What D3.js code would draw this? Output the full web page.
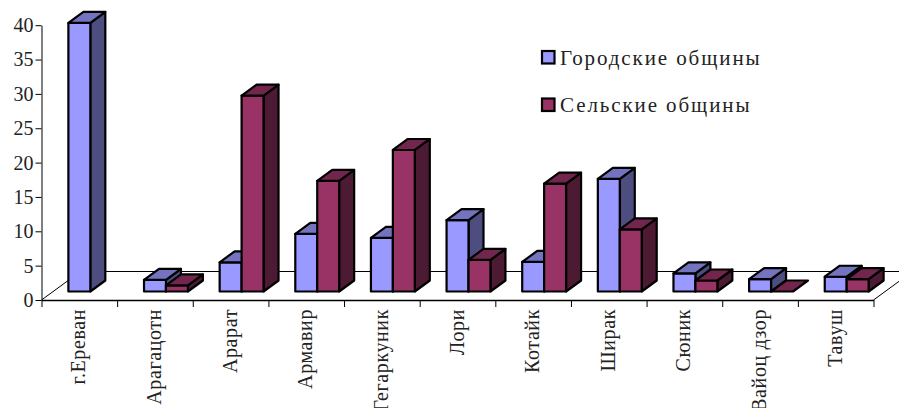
<!DOCTYPE html>
<html lang="ru">
<head>
<meta charset="UTF-8">
<title>Городские и сельские общины</title>
<script src="https://d3js.org/d3.v7.min.js"></script>
<style>
    html, body { margin: 0; padding: 0; background: #fff; overflow: hidden; }
    svg { display: block; }
    text { font-family: "Liberation Serif", serif; fill: #222; }
    .domain, .tick line { stroke: #000; }
</style>
</head>
<body>
<svg id="chart" width="899" height="408"></svg>
<script>
const regions = ["г.Ереван", "Арагацотн", "Арарат", "Армавир", "Гегаркуник", "Лори", "Котайк", "Ширак", "Сюник", "Вайоц дзор", "Тавуш"];
const urban = [39.1, 1.7, 4.25, 8.4, 7.8, 10.4, 4.3, 16.4, 2.65, 1.8, 2.15];
const rural = [0, 0.9, 28.5, 16.1, 20.6, 4.6, 15.7, 9.05, 1.6, 0, 1.8];
const seriesNames = ["Городские общины", "Сельские общины"];
const yTicks = [0, 5, 10, 15, 20, 25, 30, 35, 40];

const colors = [
    { front: "#9999ff", top: "#7373bf", side: "#4d4d80" },
    { front: "#993366", top: "#73264d", side: "#4d1a33" }
];

const svg = d3.select("#chart");
const plotLeft = 41.5, plotRight = 873.5, plotBottom = 300, plotTop = 25.2;
const floorDx = 39, floorDy = 28.5;      // floor depth
const depthDx = 15, depthDy = 11;        // bar depth
const planeDx = 11, planeDy = 8.5;       // front plane of bars relative to axis

const y = d3.scaleLinear().domain([0, 40]).range([plotBottom, plotTop]);
const xEdge = d3.scaleLinear().domain([0, regions.length]).range([plotLeft, plotRight]);
const x = d3.scaleBand().domain(d3.range(regions.length)).range([plotLeft, plotRight]).paddingInner(0.42).paddingOuter(0.21);
const xSeries = d3.scaleBand().domain([0, 1]).range([0, x.bandwidth()]);

// floor
const floor = svg.append("g").attr("fill", "none").attr("stroke", "#000").attr("stroke-width", 1);
floor.append("path").attr("d", d3.line()([
    [plotLeft, plotBottom], [plotLeft + floorDx, plotBottom - floorDy], [plotRight + floorDx, plotBottom - floorDy], [plotRight, plotBottom]
]));

// bars, back to front
const bars = svg.append("g");
function face(pts, fill) {
    bars.append("polygon")
        .attr("points", pts.map(p => p.join(",")).join(" "))
        .attr("fill", fill)
        .attr("stroke", "#000")
        .attr("stroke-width", 2.2)
        .attr("stroke-linejoin", "round");
}

regions.forEach((name, i) => {
    [urban, rural].forEach((series, s) => {
        const v = series[i];
        const x0 = x(i) + xSeries(s) + planeDx;
        const x1 = x0 + xSeries.bandwidth();
        const y0 = y(0) - planeDy;
        const y1 = y(v) - planeDy;
        const c = colors[s];
        if (v > 0) {
            face([[x1, y0], [x1 + depthDx, y0 - depthDy], [x1 + depthDx, y1 - depthDy], [x1, y1]], c.side);
            face([[x0, y0], [x1, y0], [x1, y1], [x0, y1]], c.front);
            face([[x0, y1], [x1, y1], [x1 + depthDx, y1 - depthDy], [x0 + depthDx, y1 - depthDy]], c.top);
        } else if (s === 1 && urban[i] > 0 && i > 0) {
            face([[x0, y1], [x1, y1], [x1 + depthDx, y1 - depthDy], [x0 + depthDx, y1 - depthDy]], c.top);
        }
    });
});

// axes
const yAxis = svg.append("g")
    .attr("transform", `translate(${plotLeft},0)`)
    .call(d3.axisLeft(y).tickValues(yTicks).tickSize(6).tickSizeOuter(0).tickPadding(2));
yAxis.selectAll("text").attr("font-size", 20).style("font-family", '"Liberation Serif", serif');

const xAxis = svg.append("g")
    .attr("transform", `translate(0,${plotBottom})`)
    .call(d3.axisBottom(xEdge).tickValues(d3.range(regions.length + 1)).tickSize(7).tickSizeOuter(0).tickFormat(""));
xAxis.select(".domain").attr("stroke-width", 1.4);

svg.append("g").selectAll("text")
    .data(regions)
    .join("text")
    .attr("transform", (d, i) => `translate(${(xEdge(i) + xEdge(i + 1)) / 2 + 6},309) rotate(-90)`)
    .attr("text-anchor", "end")
    .attr("font-size", 20)
    .attr("letter-spacing", 0.6)
    .text(d => d);

// legend
const legend = svg.append("g").selectAll("g")
    .data(seriesNames)
    .join("g")
    .attr("transform", (d, i) => `translate(542,${51 + i * 47.5})`);
legend.append("rect")
    .attr("width", 12.5).attr("height", 12.5)
    .attr("fill", (d, i) => colors[i].front)
    .attr("stroke", "#000").attr("stroke-width", 2.2);
legend.append("text")
    .attr("x", 18).attr("y", 13.5)
    .attr("font-size", 21)
    .attr("letter-spacing", 1.9)
    .text(d => d);
</script>
</body>
</html>
